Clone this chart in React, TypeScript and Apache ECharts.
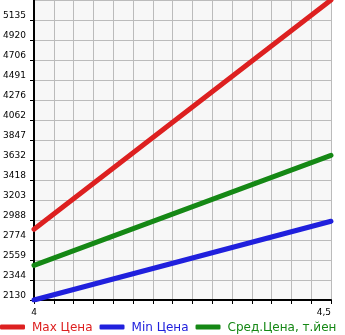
import React, { useEffect, useRef } from "react";
import * as echarts from "echarts";

const xValues = [4, 4.5];
const maxPrice = [2889, 5350];
const minPrice = [2130, 2975];
const avgPrice = [2502, 3683];
const yTickLabels = [
  "2130", "2344", "2559", "2774", "2988", "3203", "3418", "3632",
  "3847", "4062", "4276", "4491", "4706", "4920", "5135",
];
const xTickLabels = ["4", "4,5"];
const seriesNames = ["Max Цена", "Min Цена", "Сред.Цена, т.йен"];
const seriesColors = ["#dd2020", "#2020dd", "#158815"];

const Y_MIN = 2130;
const Y_MAX = 5350;
const Y_STEPS = 15;
const X_MIN = 4;
const X_MAX = 4.5;
const X_STEPS = 15;

const toY = (v: number) => ((v - Y_MIN) / (Y_MAX - Y_MIN)) * Y_STEPS;
const toX = (v: number) => ((v - X_MIN) / (X_MAX - X_MIN)) * X_STEPS;

export default function App() {
  const ref = useRef<HTMLDivElement>(null);
  useEffect(() => {
    if (!ref.current) return;
    const chart = echarts.init(ref.current, null, { renderer: "svg" });
    const allSeries = [maxPrice, minPrice, avgPrice];
    chart.setOption({
      animation: false,
      textStyle: { fontFamily: "DejaVu Sans" },
      grid: {
        left: 31,
        right: 14,
        top: 0,
        bottom: 35,
        show: true,
        backgroundColor: "#f7f7f7",
        borderWidth: 0,
      },
      xAxis: {
        type: "value",
        min: 0,
        max: X_STEPS,
        interval: 1,
        axisLine: { show: true, onZero: false, lineStyle: { color: "#000", width: 2 } },
        axisTick: { show: true, length: 4, lineStyle: { color: "#000", width: 1 } },
        splitLine: { show: true, lineStyle: { color: "#bbbbbb", width: 1 } },
        axisLabel: {
          show: true,
          margin: 7,
          fontSize: 9,
          color: "#000",
          fontFamily: "DejaVu Sans",
          showMinLabel: true,
          showMaxLabel: true,
          alignMaxLabel: "right",
          formatter: (v: number) =>
            Math.round(v) === 0 ? xTickLabels[0] : Math.round(v) === X_STEPS ? xTickLabels[1] : "",
        },
      },
      yAxis: {
        type: "value",
        min: 0,
        max: Y_STEPS,
        interval: 1,
        axisLine: { show: true, onZero: false, lineStyle: { color: "#000", width: 2 } },
        axisTick: { show: true, length: 4, lineStyle: { color: "#000", width: 1 } },
        splitLine: { show: true, lineStyle: { color: "#bbbbbb", width: 1 } },
        axisLabel: {
          show: true,
          margin: 31,
          align: "left",
          verticalAlign: "bottom",
          fontSize: 9,
          lineHeight: 10,
          color: "#000",
          fontFamily: "DejaVu Sans",
          showMaxLabel: false,
          formatter: (v: number) => yTickLabels[Math.round(v)] ?? "",
        },
      },
      legend: {
        left: 0,
        top: 321,
        padding: 0,
        itemWidth: 25,
        itemHeight: 5,
        itemGap: 7,
        icon: "roundRect",
        selectedMode: false,
        textStyle: { fontSize: 12, fontFamily: "DejaVu Sans", padding: [0, 0, 0, 2] },
        data: seriesNames.map((n, i) => ({
          name: n,
          textStyle: { color: seriesColors[i], padding: [0, 0, 0, 2] },
          itemStyle: { color: seriesColors[i] },
        })),
      },
      series: allSeries.map((vals, i) => ({
        name: seriesNames[i],
        type: "line",
        showSymbol: false,
        symbol: "none",
        color: seriesColors[i],
        lineStyle: { color: seriesColors[i], width: 5, cap: "round" },
        data: xValues.map((x, j) => [toX(x), toY(vals[j])]),
        clip: true,
      })),
    });
    return () => chart.dispose();
  }, []);
  return (
    <div
      ref={ref}
      style={{ position: "fixed", left: 0, top: 0, width: 345, height: 335 }}
    />
  );
}
